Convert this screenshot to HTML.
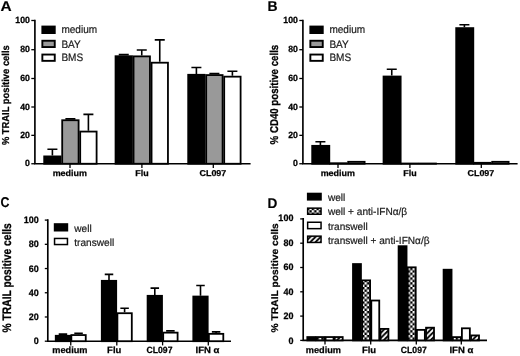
<!DOCTYPE html>
<html><head><meta charset="utf-8"><title>figure</title>
<style>
html,body{margin:0;padding:0;background:#fff;}
body{width:520px;height:356px;overflow:hidden;font-family:"Liberation Sans",sans-serif;}
svg{display:block;}
text{text-rendering:geometricPrecision;}
</style></head><body>
<svg width="520" height="356" viewBox="0 0 520 356" font-family='"Liberation Sans", sans-serif'>
<defs>
<pattern id="chk" width="4.8" height="4.8" patternUnits="userSpaceOnUse" patternTransform="translate(4.5 3.8)"><rect width="4.8" height="4.8" fill="#000"/><rect width="2.4" height="2.4" fill="#fff"/><rect x="2.4" y="2.4" width="2.4" height="2.4" fill="#fff"/></pattern>
<pattern id="hat" width="5.2" height="5.2" patternUnits="userSpaceOnUse" patternTransform="translate(1.2 0)"><rect width="5.2" height="5.2" fill="#fff"/><path d="M-1 1L1 -1M-1 6.2L6.2 -1M4.2 6.2L6.2 4.2" stroke="#000" stroke-width="1.9"/></pattern>
<filter id="bl" x="0" y="0" width="520" height="356" filterUnits="userSpaceOnUse" color-interpolation-filters="sRGB"><feGaussianBlur stdDeviation="0.45"/></filter>
</defs>
<rect width="520" height="356" fill="#fff"/>
<g filter="url(#bl)">
<text transform="translate(0.60 10.75) scale(1.09 1)" font-size="14.2" font-weight="bold" text-anchor="start" fill="#000"  stroke="#000" stroke-width="0.15">A</text>
<text transform="translate(9.30 95.20) rotate(-90) scale(1 1.07)" font-size="9.4" font-weight="bold" text-anchor="middle" fill="#000" stroke="#000" stroke-width="0.25">% TRAIL positive cells</text>
<path d="M34.90 19.68V163.75H250.60" stroke="#000" stroke-width="1.65" fill="none"/>
<path d="M31.30 163.75H34.90" stroke="#000" stroke-width="1.3"/>
<text transform="translate(29.90 166.35) scale(0.97 1)" font-size="9.0" font-weight="bold" text-anchor="end" fill="#000"  stroke="#000" stroke-width="0.25">0</text>
<path d="M31.30 135.35H34.90" stroke="#000" stroke-width="1.3"/>
<text transform="translate(29.90 137.95) scale(0.97 1)" font-size="9.0" font-weight="bold" text-anchor="end" fill="#000"  stroke="#000" stroke-width="0.25">20</text>
<path d="M31.30 107.00H34.90" stroke="#000" stroke-width="1.3"/>
<text transform="translate(29.90 109.60) scale(0.97 1)" font-size="9.0" font-weight="bold" text-anchor="end" fill="#000"  stroke="#000" stroke-width="0.25">40</text>
<path d="M31.30 78.50H34.90" stroke="#000" stroke-width="1.3"/>
<text transform="translate(29.90 81.10) scale(0.97 1)" font-size="9.0" font-weight="bold" text-anchor="end" fill="#000"  stroke="#000" stroke-width="0.25">60</text>
<path d="M31.30 49.70H34.90" stroke="#000" stroke-width="1.3"/>
<text transform="translate(29.90 52.30) scale(0.97 1)" font-size="9.0" font-weight="bold" text-anchor="end" fill="#000"  stroke="#000" stroke-width="0.25">80</text>
<path d="M31.30 20.50H34.90" stroke="#000" stroke-width="1.3"/>
<text transform="translate(29.90 23.10) scale(0.97 1)" font-size="9.0" font-weight="bold" text-anchor="end" fill="#000"  stroke="#000" stroke-width="0.25">100</text>
<path d="M70.00 163.75V167.95" stroke="#000" stroke-width="1.3"/>
<text transform="translate(69.80 176.40) scale(1.05 1)" font-size="8.5" font-weight="bold" text-anchor="middle" fill="#000" letter-spacing="0.0" stroke="#000" stroke-width="0.25">medium</text>
<path d="M141.90 163.75V167.95" stroke="#000" stroke-width="1.3"/>
<text transform="translate(141.90 176.40) scale(1.05 1)" font-size="8.5" font-weight="bold" text-anchor="middle" fill="#000" letter-spacing="0.0" stroke="#000" stroke-width="0.25">Flu</text>
<path d="M213.30 163.75V167.95" stroke="#000" stroke-width="1.3"/>
<text transform="translate(212.90 176.40) scale(1.05 1)" font-size="8.5" font-weight="bold" text-anchor="middle" fill="#000" letter-spacing="0.0" stroke="#000" stroke-width="0.25">CL097</text>
<path d="M52.40 155.51V149.27M47.40 149.27H57.40" stroke="#000" stroke-width="1.6" fill="none"/>
<rect x="44.20" y="156.41" width="16.40" height="7.34" fill="#000" stroke="#000" stroke-width="1.8"/>
<path d="M70.40 119.33V118.91M65.40 118.91H75.40" stroke="#000" stroke-width="1.6" fill="none"/>
<rect x="62.20" y="120.23" width="16.40" height="43.52" fill="#999" stroke="#000" stroke-width="1.8"/>
<path d="M88.40 130.67V114.37M83.40 114.37H93.40" stroke="#000" stroke-width="1.6" fill="none"/>
<rect x="80.20" y="131.57" width="16.40" height="32.18" fill="#fff" stroke="#000" stroke-width="1.8"/>
<path d="M123.75 55.32V54.60M118.75 54.60H128.75" stroke="#000" stroke-width="1.6" fill="none"/>
<rect x="115.55" y="56.22" width="16.40" height="107.53" fill="#000" stroke="#000" stroke-width="1.8"/>
<path d="M141.75 55.46V49.99M136.75 49.99H146.75" stroke="#000" stroke-width="1.6" fill="none"/>
<rect x="133.55" y="56.36" width="16.40" height="107.39" fill="#999" stroke="#000" stroke-width="1.8"/>
<path d="M159.75 61.80V39.92M154.75 39.92H164.75" stroke="#000" stroke-width="1.6" fill="none"/>
<rect x="151.55" y="62.70" width="16.40" height="101.05" fill="#fff" stroke="#000" stroke-width="1.8"/>
<path d="M196.40 73.89V67.56M191.40 67.56H201.40" stroke="#000" stroke-width="1.6" fill="none"/>
<rect x="188.20" y="74.79" width="16.40" height="88.96" fill="#000" stroke="#000" stroke-width="1.8"/>
<path d="M214.40 74.18V73.60M209.40 73.60H219.40" stroke="#000" stroke-width="1.6" fill="none"/>
<rect x="206.20" y="75.08" width="16.40" height="88.67" fill="#999" stroke="#000" stroke-width="1.8"/>
<path d="M232.40 75.76V71.30M227.40 71.30H237.40" stroke="#000" stroke-width="1.6" fill="none"/>
<rect x="224.20" y="76.66" width="16.40" height="87.09" fill="#fff" stroke="#000" stroke-width="1.8"/>
<rect x="42.35" y="26.55" width="12.40" height="6.50" fill="#000" stroke="#000" stroke-width="1.9"/>
<text transform="translate(61.40 33.00) scale(0.93 1)" font-size="10.8" font-weight="normal" text-anchor="start" fill="#1a1a1a"  stroke="#1a1a1a" stroke-width="0.2">medium</text>
<rect x="42.35" y="40.75" width="12.40" height="6.30" fill="#999" stroke="#000" stroke-width="1.9"/>
<text transform="translate(61.40 47.80) scale(0.93 1)" font-size="10.8" font-weight="normal" text-anchor="start" fill="#1a1a1a"  stroke="#1a1a1a" stroke-width="0.2">BAY</text>
<rect x="42.35" y="54.55" width="12.40" height="6.30" fill="#fff" stroke="#000" stroke-width="1.9"/>
<text transform="translate(61.40 60.70) scale(0.93 1)" font-size="10.8" font-weight="normal" text-anchor="start" fill="#1a1a1a"  stroke="#1a1a1a" stroke-width="0.2">BMS</text>
<text transform="translate(267.60 10.75) scale(0.98 1)" font-size="14.2" font-weight="bold" text-anchor="start" fill="#000"  stroke="#000" stroke-width="0.15">B</text>
<text transform="translate(277.80 94.60) rotate(-90) scale(1 1.17)" font-size="9.7" font-weight="bold" text-anchor="middle" fill="#000" stroke="#000" stroke-width="0.25">% CD40 positive cells</text>
<path d="M302.90 19.68V163.75H517.60" stroke="#000" stroke-width="1.65" fill="none"/>
<path d="M299.30 163.75H302.90" stroke="#000" stroke-width="1.3"/>
<text transform="translate(297.90 166.35) scale(0.97 1)" font-size="9.0" font-weight="bold" text-anchor="end" fill="#000"  stroke="#000" stroke-width="0.25">0</text>
<path d="M299.30 135.35H302.90" stroke="#000" stroke-width="1.3"/>
<text transform="translate(297.90 137.95) scale(0.97 1)" font-size="9.0" font-weight="bold" text-anchor="end" fill="#000"  stroke="#000" stroke-width="0.25">20</text>
<path d="M299.30 107.00H302.90" stroke="#000" stroke-width="1.3"/>
<text transform="translate(297.90 109.60) scale(0.97 1)" font-size="9.0" font-weight="bold" text-anchor="end" fill="#000"  stroke="#000" stroke-width="0.25">40</text>
<path d="M299.30 78.50H302.90" stroke="#000" stroke-width="1.3"/>
<text transform="translate(297.90 81.10) scale(0.97 1)" font-size="9.0" font-weight="bold" text-anchor="end" fill="#000"  stroke="#000" stroke-width="0.25">60</text>
<path d="M299.30 49.70H302.90" stroke="#000" stroke-width="1.3"/>
<text transform="translate(297.90 52.30) scale(0.97 1)" font-size="9.0" font-weight="bold" text-anchor="end" fill="#000"  stroke="#000" stroke-width="0.25">80</text>
<path d="M299.30 20.50H302.90" stroke="#000" stroke-width="1.3"/>
<text transform="translate(297.90 23.10) scale(0.97 1)" font-size="9.0" font-weight="bold" text-anchor="end" fill="#000"  stroke="#000" stroke-width="0.25">100</text>
<path d="M338.00 163.75V167.95" stroke="#000" stroke-width="1.3"/>
<text transform="translate(337.80 176.40) scale(1.05 1)" font-size="8.5" font-weight="bold" text-anchor="middle" fill="#000" letter-spacing="0.0" stroke="#000" stroke-width="0.25">medium</text>
<path d="M409.90 163.75V167.95" stroke="#000" stroke-width="1.3"/>
<text transform="translate(409.90 176.40) scale(1.05 1)" font-size="8.5" font-weight="bold" text-anchor="middle" fill="#000" letter-spacing="0.0" stroke="#000" stroke-width="0.25">Flu</text>
<path d="M481.30 163.75V167.95" stroke="#000" stroke-width="1.3"/>
<text transform="translate(480.90 176.40) scale(1.05 1)" font-size="8.5" font-weight="bold" text-anchor="middle" fill="#000" letter-spacing="0.0" stroke="#000" stroke-width="0.25">CL097</text>
<path d="M320.40 144.94V141.81M315.40 141.81H325.40" stroke="#000" stroke-width="1.6" fill="none"/>
<rect x="312.20" y="145.84" width="17.10" height="17.91" fill="#000" stroke="#000" stroke-width="1.8"/>
<rect x="330.20" y="163.23" width="16.40" height="0.52" fill="#999" stroke="#000" stroke-width="1.8"/>
<rect x="348.20" y="161.81" width="16.40" height="1.94" fill="#fff" stroke="#000" stroke-width="1.8"/>
<path d="M391.75 75.62V69.28M386.75 69.28H396.75" stroke="#000" stroke-width="1.6" fill="none"/>
<rect x="383.55" y="76.52" width="17.10" height="87.23" fill="#000" stroke="#000" stroke-width="1.8"/>
<rect x="401.55" y="163.51" width="16.40" height="0.24" fill="#999" stroke="#000" stroke-width="1.8"/>
<rect x="419.55" y="163.51" width="16.40" height="0.24" fill="#fff" stroke="#000" stroke-width="1.8"/>
<path d="M464.40 27.22V24.73M459.40 24.73H469.40" stroke="#000" stroke-width="1.6" fill="none"/>
<rect x="456.20" y="28.12" width="17.10" height="135.63" fill="#000" stroke="#000" stroke-width="1.8"/>
<rect x="474.20" y="162.80" width="16.40" height="0.95" fill="#999" stroke="#000" stroke-width="1.8"/>
<rect x="492.20" y="161.81" width="16.40" height="1.94" fill="#fff" stroke="#000" stroke-width="1.8"/>
<rect x="310.35" y="26.55" width="12.40" height="6.50" fill="#000" stroke="#000" stroke-width="1.9"/>
<text transform="translate(329.40 33.00) scale(0.93 1)" font-size="10.8" font-weight="normal" text-anchor="start" fill="#1a1a1a"  stroke="#1a1a1a" stroke-width="0.2">medium</text>
<rect x="310.35" y="40.75" width="12.40" height="6.30" fill="#999" stroke="#000" stroke-width="1.9"/>
<text transform="translate(329.40 47.80) scale(0.93 1)" font-size="10.8" font-weight="normal" text-anchor="start" fill="#1a1a1a"  stroke="#1a1a1a" stroke-width="0.2">BAY</text>
<rect x="310.35" y="54.55" width="12.40" height="6.30" fill="#fff" stroke="#000" stroke-width="1.9"/>
<text transform="translate(329.40 60.70) scale(0.93 1)" font-size="10.8" font-weight="normal" text-anchor="start" fill="#1a1a1a"  stroke="#1a1a1a" stroke-width="0.2">BMS</text>
<text transform="translate(0.50 207.35) scale(0.875 1)" font-size="14.2" font-weight="bold" text-anchor="start" fill="#000"  stroke="#000" stroke-width="0.15">C</text>
<text transform="translate(11.20 277.80) rotate(-90) scale(1 1.2)" font-size="10.25" font-weight="bold" text-anchor="middle" fill="#000" stroke="#000" stroke-width="0.25">% TRAIL positive cells</text>
<path d="M47.80 219.27V341.20H231.00" stroke="#000" stroke-width="1.65" fill="none"/>
<path d="M44.80 341.20H47.80" stroke="#000" stroke-width="1.3"/>
<text transform="translate(38.80 344.20) scale(0.96 1)" font-size="9.4" font-weight="bold" text-anchor="end" fill="#000"  stroke="#000" stroke-width="0.25">0</text>
<path d="M44.80 316.98H47.80" stroke="#000" stroke-width="1.3"/>
<text transform="translate(38.80 319.98) scale(0.96 1)" font-size="9.4" font-weight="bold" text-anchor="end" fill="#000"  stroke="#000" stroke-width="0.25">20</text>
<path d="M44.80 292.76H47.80" stroke="#000" stroke-width="1.3"/>
<text transform="translate(38.80 295.76) scale(0.96 1)" font-size="9.4" font-weight="bold" text-anchor="end" fill="#000"  stroke="#000" stroke-width="0.25">40</text>
<path d="M44.80 268.54H47.80" stroke="#000" stroke-width="1.3"/>
<text transform="translate(38.80 271.54) scale(0.96 1)" font-size="9.4" font-weight="bold" text-anchor="end" fill="#000"  stroke="#000" stroke-width="0.25">60</text>
<path d="M44.80 244.32H47.80" stroke="#000" stroke-width="1.3"/>
<text transform="translate(38.80 247.32) scale(0.96 1)" font-size="9.4" font-weight="bold" text-anchor="end" fill="#000"  stroke="#000" stroke-width="0.25">80</text>
<path d="M44.80 220.10H47.80" stroke="#000" stroke-width="1.3"/>
<text transform="translate(38.80 223.10) scale(0.96 1)" font-size="9.4" font-weight="bold" text-anchor="end" fill="#000"  stroke="#000" stroke-width="0.25">100</text>
<path d="M70.75 341.20V345.40" stroke="#000" stroke-width="1.3"/>
<text transform="translate(69.85 353.30) scale(1.02 1)" font-size="9" font-weight="bold" text-anchor="middle" fill="#000" letter-spacing="0" stroke="#000" stroke-width="0.25">medium</text>
<path d="M116.80 341.20V345.40" stroke="#000" stroke-width="1.3"/>
<text transform="translate(114.20 353.30) scale(1.05 1)" font-size="9" font-weight="bold" text-anchor="middle" fill="#000" letter-spacing="0" stroke="#000" stroke-width="0.25">Flu</text>
<path d="M162.60 341.20V345.40" stroke="#000" stroke-width="1.3"/>
<text transform="translate(159.50 353.30) scale(0.96 1)" font-size="9" font-weight="bold" text-anchor="middle" fill="#000" letter-spacing="0" stroke="#000" stroke-width="0.25">CL097</text>
<path d="M208.30 341.20V345.40" stroke="#000" stroke-width="1.3"/>
<text transform="translate(207.50 353.30) scale(1.06 1)" font-size="9" font-weight="bold" text-anchor="middle" fill="#000" letter-spacing="0" stroke="#000" stroke-width="0.25">IFN α</text>
<path d="M62.95 334.88V334.15M58.70 334.15H67.20" stroke="#000" stroke-width="1.6" fill="none"/>
<rect x="55.75" y="335.78" width="14.40" height="5.42" fill="#000" stroke="#000" stroke-width="1.8"/>
<path d="M78.55 334.16V333.20M74.30 333.20H82.80" stroke="#000" stroke-width="1.6" fill="none"/>
<rect x="71.35" y="335.06" width="14.40" height="6.14" fill="#fff" stroke="#000" stroke-width="1.8"/>
<path d="M109.00 279.92V274.35M104.75 274.35H113.25" stroke="#000" stroke-width="1.6" fill="none"/>
<rect x="101.80" y="280.82" width="14.40" height="60.38" fill="#000" stroke="#000" stroke-width="1.8"/>
<path d="M124.60 312.31V308.19M120.35 308.19H128.85" stroke="#000" stroke-width="1.6" fill="none"/>
<rect x="117.40" y="313.21" width="14.40" height="27.99" fill="#fff" stroke="#000" stroke-width="1.8"/>
<path d="M154.80 294.92V288.13M150.55 288.13H159.05" stroke="#000" stroke-width="1.6" fill="none"/>
<rect x="147.60" y="295.82" width="14.40" height="45.38" fill="#000" stroke="#000" stroke-width="1.8"/>
<path d="M170.40 331.74V330.89M166.15 330.89H174.65" stroke="#000" stroke-width="1.6" fill="none"/>
<rect x="163.20" y="332.64" width="14.40" height="8.56" fill="#fff" stroke="#000" stroke-width="1.8"/>
<path d="M200.50 295.64V285.47M196.25 285.47H204.75" stroke="#000" stroke-width="1.6" fill="none"/>
<rect x="193.30" y="296.54" width="14.40" height="44.66" fill="#000" stroke="#000" stroke-width="1.8"/>
<path d="M216.10 332.95V331.86M211.85 331.86H220.35" stroke="#000" stroke-width="1.6" fill="none"/>
<rect x="208.90" y="333.85" width="14.40" height="7.35" fill="#fff" stroke="#000" stroke-width="1.8"/>
<rect x="54.55" y="223.95" width="12.90" height="6.80" fill="#000" stroke="#000" stroke-width="1.5"/>
<text transform="translate(74.30 231.60) scale(0.98 1)" font-size="10.3" font-weight="normal" text-anchor="start" fill="#1a1a1a"  stroke="#1a1a1a" stroke-width="0.2">well</text>
<rect x="54.55" y="238.45" width="12.90" height="6.10" fill="#fff" stroke="#000" stroke-width="1.5"/>
<text transform="translate(74.30 246.00) scale(0.98 1)" font-size="10.3" font-weight="normal" text-anchor="start" fill="#1a1a1a"  stroke="#1a1a1a" stroke-width="0.2">transwell</text>
<text transform="translate(267.40 207.60) scale(0.96 1)" font-size="14.2" font-weight="bold" text-anchor="start" fill="#000"  stroke="#000" stroke-width="0.15">D</text>
<text transform="translate(278.30 277.80) rotate(-90) scale(1 0.95)" font-size="10.25" font-weight="bold" text-anchor="middle" fill="#000" stroke="#000" stroke-width="0.25">% TRAIL positive cells</text>
<path d="M303.20 218.07V340.40H487.00" stroke="#000" stroke-width="1.65" fill="none"/>
<path d="M300.20 340.40H303.20" stroke="#000" stroke-width="1.3"/>
<text transform="translate(293.40 343.90) scale(0.96 1)" font-size="9.4" font-weight="bold" text-anchor="end" fill="#000"  stroke="#000" stroke-width="0.25">0</text>
<path d="M300.20 316.10H303.20" stroke="#000" stroke-width="1.3"/>
<text transform="translate(293.40 319.40) scale(0.96 1)" font-size="9.4" font-weight="bold" text-anchor="end" fill="#000"  stroke="#000" stroke-width="0.25">20</text>
<path d="M300.20 291.80H303.20" stroke="#000" stroke-width="1.3"/>
<text transform="translate(293.40 294.90) scale(0.96 1)" font-size="9.4" font-weight="bold" text-anchor="end" fill="#000"  stroke="#000" stroke-width="0.25">40</text>
<path d="M300.20 267.50H303.20" stroke="#000" stroke-width="1.3"/>
<text transform="translate(293.40 270.40) scale(0.96 1)" font-size="9.4" font-weight="bold" text-anchor="end" fill="#000"  stroke="#000" stroke-width="0.25">60</text>
<path d="M300.20 243.20H303.20" stroke="#000" stroke-width="1.3"/>
<text transform="translate(293.40 245.90) scale(0.96 1)" font-size="9.4" font-weight="bold" text-anchor="end" fill="#000"  stroke="#000" stroke-width="0.25">80</text>
<path d="M300.20 218.90H303.20" stroke="#000" stroke-width="1.3"/>
<text transform="translate(293.40 221.40) scale(0.96 1)" font-size="9.4" font-weight="bold" text-anchor="end" fill="#000"  stroke="#000" stroke-width="0.25">100</text>
<path d="M325.00 340.40V344.60" stroke="#000" stroke-width="1.3"/>
<text transform="translate(323.40 353.30) scale(1.02 1)" font-size="9" font-weight="bold" text-anchor="middle" fill="#000" letter-spacing="0" stroke="#000" stroke-width="0.25">medium</text>
<path d="M370.70 340.40V344.60" stroke="#000" stroke-width="1.3"/>
<text transform="translate(369.00 353.30) scale(1.05 1)" font-size="9" font-weight="bold" text-anchor="middle" fill="#000" letter-spacing="0" stroke="#000" stroke-width="0.25">Flu</text>
<path d="M416.30 340.40V344.60" stroke="#000" stroke-width="1.3"/>
<text transform="translate(413.80 353.30) scale(0.96 1)" font-size="9" font-weight="bold" text-anchor="middle" fill="#000" letter-spacing="0" stroke="#000" stroke-width="0.25">CL097</text>
<path d="M461.30 340.40V344.60" stroke="#000" stroke-width="1.3"/>
<text transform="translate(461.40 353.30) scale(1.06 1)" font-size="9" font-weight="bold" text-anchor="middle" fill="#000" letter-spacing="0" stroke="#000" stroke-width="0.25">IFN α</text>
<rect x="307.30" y="337.05" width="7.95" height="3.35" fill="#000" stroke="#000" stroke-width="1.8"/>
<rect x="316.45" y="337.05" width="7.95" height="3.35" fill="url(#chk)" stroke="#000" stroke-width="1.8"/>
<rect x="325.60" y="337.05" width="7.95" height="3.35" fill="#fff" stroke="#000" stroke-width="1.8"/>
<rect x="334.75" y="337.05" width="7.95" height="3.35" fill="url(#hat)" stroke="#000" stroke-width="1.8"/>
<rect x="353.00" y="264.05" width="7.95" height="76.35" fill="#000" stroke="#000" stroke-width="1.8"/>
<rect x="362.15" y="280.36" width="7.95" height="60.04" fill="url(#chk)" stroke="#000" stroke-width="1.8"/>
<rect x="371.30" y="300.52" width="7.95" height="39.88" fill="#fff" stroke="#000" stroke-width="1.8"/>
<rect x="380.45" y="328.89" width="7.95" height="11.51" fill="url(#hat)" stroke="#000" stroke-width="1.8"/>
<rect x="398.60" y="246.19" width="7.95" height="94.21" fill="#000" stroke="#000" stroke-width="1.8"/>
<rect x="407.75" y="267.32" width="7.95" height="73.08" fill="url(#chk)" stroke="#000" stroke-width="1.8"/>
<rect x="416.90" y="329.87" width="7.95" height="10.53" fill="#fff" stroke="#000" stroke-width="1.8"/>
<rect x="426.05" y="327.69" width="7.95" height="12.71" fill="url(#hat)" stroke="#000" stroke-width="1.8"/>
<rect x="443.60" y="269.72" width="7.95" height="70.68" fill="#000" stroke="#000" stroke-width="1.8"/>
<rect x="452.75" y="337.11" width="7.95" height="3.29" fill="url(#chk)" stroke="#000" stroke-width="1.8"/>
<rect x="461.90" y="328.30" width="7.95" height="12.10" fill="#fff" stroke="#000" stroke-width="1.8"/>
<rect x="471.05" y="335.42" width="7.95" height="4.98" fill="url(#hat)" stroke="#000" stroke-width="1.8"/>
<rect x="307.65" y="193.45" width="13.40" height="6.40" fill="#000" stroke="#000" stroke-width="1.5"/>
<text transform="translate(327.90 201.10) scale(0.98 1)" font-size="10.3" font-weight="normal" text-anchor="start" fill="#1a1a1a"  stroke="#1a1a1a" stroke-width="0.2">well</text>
<rect x="307.65" y="208.15" width="13.40" height="6.10" fill="url(#chk)" stroke="#000" stroke-width="1.5"/>
<text transform="translate(327.90 214.90) scale(0.98 1)" font-size="10.3" font-weight="normal" text-anchor="start" fill="#1a1a1a"  stroke="#1a1a1a" stroke-width="0.2">well + anti-IFNα/β</text>
<rect x="307.65" y="222.25" width="13.40" height="6.40" fill="#fff" stroke="#000" stroke-width="1.5"/>
<text transform="translate(327.90 229.80) scale(0.98 1)" font-size="10.3" font-weight="normal" text-anchor="start" fill="#1a1a1a"  stroke="#1a1a1a" stroke-width="0.2">transwell</text>
<rect x="307.65" y="236.15" width="13.40" height="6.30" fill="url(#hat)" stroke="#000" stroke-width="1.5"/>
<text transform="translate(327.90 243.50) scale(0.98 1)" font-size="10.3" font-weight="normal" text-anchor="start" fill="#1a1a1a"  stroke="#1a1a1a" stroke-width="0.2">transwell + anti-IFNα/β</text>
</g></svg>
</body></html>
